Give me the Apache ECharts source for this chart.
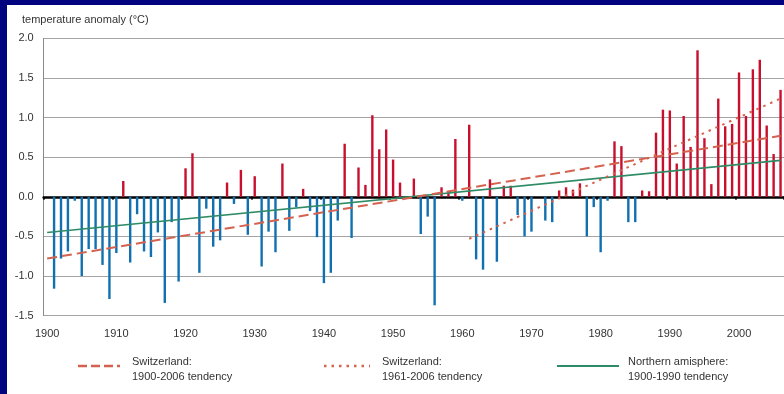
<!DOCTYPE html>
<html>
<head>
<meta charset="utf-8">
<title>Temperature anomaly Switzerland 1901-2006</title>
<script src="https://cdn.jsdelivr.net/npm/echarts@6/dist/echarts.min.js"></script>
<style>
  html, body { margin: 0; padding: 0; }
  body { width: 784px; height: 394px; background: #02037f; position: relative; overflow: hidden; }
  #panel { position: absolute; left: 7px; top: 5px; right: 0; bottom: 0; background: #ffffff; }
  #chart { position: absolute; left: 0; top: 0; width: 784px; height: 394px; }
</style>
</head>
<body>
<div id="panel"></div>
<div id="chart"></div>
<script>
// Yearly temperature anomaly (°C), 1900 has no measurement
const firstYear = 1900;
const lastYear = 2006;
const years = [];
for (let y = firstYear; y <= lastYear; y++) years.push(String(y));

const anomaly1900s = [null, -1.16, -0.78, -0.69, -0.05, -1.00, -0.66, -0.66, -0.86, -1.29, -0.71];
const anomaly1910s = [0.20, -0.83, -0.22, -0.69, -0.76, -0.45, -1.34, -0.32, -1.07, 0.36];
const anomaly1920s = [0.55, -0.96, -0.15, -0.63, -0.55, 0.18, -0.09, 0.34, -0.48, 0.26];
const anomaly1930s = [-0.88, -0.44, -0.70, 0.42, -0.43, -0.13, 0.10, -0.18, -0.51, -1.09];
const anomaly1940s = [-0.96, -0.30, 0.67, -0.52, 0.37, 0.15, 1.03, 0.60, 0.85, 0.47];
const anomaly1950s = [0.18, 0.00, 0.23, -0.47, -0.25, -1.37, 0.12, 0.06, 0.73, -0.05];
const anomaly1960s = [0.91, -0.79, -0.92, 0.22, -0.82, 0.14, 0.14, -0.23, -0.50, -0.44];
const anomaly1970s = [0.00, -0.30, -0.32, 0.08, 0.12, 0.09, 0.17, -0.50, -0.13, -0.70];
const anomaly1980s = [-0.05, 0.70, 0.64, -0.32, -0.32, 0.08, 0.07, 0.81, 1.10, 1.09];
const anomaly1990s = [0.42, 1.02, 0.63, 1.85, 0.74, 0.16, 1.24, 0.89, 0.92, 1.57];
const anomaly2000s = [1.02, 1.61, 1.73, 0.90, 0.54, 1.35];

const anomalies = [].concat(anomaly1900s, anomaly1910s, anomaly1920s, anomaly1930s,
  anomaly1940s, anomaly1950s, anomaly1960s, anomaly1970s, anomaly1980s,
  anomaly1990s, anomaly2000s);

// Linear tendencies: [start year, start value], [end year, end value]
const swissTrend1900 = [['1900', -0.78], ['2006', 0.77]];
const swissTrend1961 = [['1961', -0.53], ['2006', 1.24]];
const northernTrend = [['1900', -0.45], ['2006', 0.46]];

const legendNames = [
  'Switzerland:\n1900-2006 tendency',
  'Switzerland:\n1961-2006 tendency',
  'Northern amisphere:\n1900-1990 tendency'
];

const warmColor = '#c8102e';
const coldColor = '#1170b0';
const trendRed = '#d4624e';
const trendGreen = '#2e8b66';
const textColor = '#333333';
const baseFont = '"Liberation Sans", Arial, sans-serif';

const chart = echarts.init(document.getElementById('chart'), null, { renderer: 'canvas' });

const decadeOnly = (index) => index % 10 === 0;

chart.setOption({
  animation: false,
  backgroundColor: 'transparent',
  textStyle: { fontFamily: baseFont },
  title: {
    text: 'temperature anomaly (°C)',
    left: 17, top: 9,
    textStyle: { fontSize: 11, fontWeight: 'normal', color: textColor, fontFamily: baseFont }
  },
  grid: { left: 43.7, top: 38.4, width: 741.5, height: 277.2, containLabel: false },
  xAxis: [
    {
      // zero line with decade ticks
      type: 'category',
      data: years,
      position: 'bottom',
      boundaryGap: true,
      axisLine: { onZero: true, lineStyle: { color: '#000000', width: 2.6 } },
      axisTick: { show: true, interval: (i) => decadeOnly(i), length: 3, lineStyle: { color: '#000000', width: 1.5 } },
      axisLabel: { show: false },
      splitLine: { show: false }
    },
    {
      // decade labels along the bottom
      type: 'category',
      data: years,
      position: 'bottom',
      boundaryGap: true,
      axisLine: { show: false, onZero: false },
      axisTick: { show: false },
      axisLabel: {
        show: true,
        interval: (i) => decadeOnly(i),
        margin: 13,
        fontSize: 11,
        color: textColor,
        fontFamily: '"Liberation Sans Narrow", "Arial Narrow", ' + baseFont
      },
      splitLine: { show: false }
    }
  ],
  yAxis: {
    type: 'value',
    min: -1.5, max: 2.0, interval: 0.5,
    axisLine: { show: true, lineStyle: { color: '#8a8a8a', width: 1 } },
    axisTick: { show: false },
    axisLabel: {
      margin: 10, fontSize: 11, color: textColor, fontFamily: baseFont,
      formatter: (v) => v.toFixed(1)
    },
    splitLine: { show: true, lineStyle: { color: '#a3a3a3', width: 1 } }
  },
  series: [
    {
      name: 'anomaly',
      type: 'bar',
      xAxisIndex: 0,
      data: anomalies,
      barWidth: 2.4,
      itemStyle: { color: (p) => (p.value >= 0 ? warmColor : coldColor) },
      z: 2
    },
    {
      name: legendNames[0],
      type: 'line',
      xAxisIndex: 0,
      data: swissTrend1900,
      symbol: 'none',
      lineStyle: { color: trendRed, width: 2, type: [10, 5] },
      z: 4
    },
    {
      name: legendNames[1],
      type: 'line',
      xAxisIndex: 0,
      data: swissTrend1961,
      symbol: 'none',
      lineStyle: { color: trendRed, width: 2, type: [2.5, 5] },
      z: 4
    },
    {
      name: legendNames[2],
      type: 'line',
      xAxisIndex: 0,
      data: northernTrend,
      symbol: 'none',
      lineStyle: { color: trendGreen, width: 1.6 },
      z: 3
    }
  ],
  graphic: {
    elements: [
      { type: 'line', shape: { x1: 78, y1: 366, x2: 120, y2: 366 },
        style: { stroke: trendRed, lineWidth: 2.5, lineDash: [9, 4] } },
      { type: 'text', left: 132, top: 354,
        style: { text: legendNames[0], font: '11px ' + baseFont, fill: textColor, lineHeight: 15 } },
      { type: 'line', shape: { x1: 324, y1: 366, x2: 370, y2: 366 },
        style: { stroke: trendRed, lineWidth: 2.5, lineDash: [2.5, 5] } },
      { type: 'text', left: 382, top: 354,
        style: { text: legendNames[1], font: '11px ' + baseFont, fill: textColor, lineHeight: 15 } },
      { type: 'line', shape: { x1: 557, y1: 366, x2: 619, y2: 366 },
        style: { stroke: trendGreen, lineWidth: 2 } },
      { type: 'text', left: 628, top: 354,
        style: { text: legendNames[2], font: '11px ' + baseFont, fill: textColor, lineHeight: 15 } }
    ]
  }
});
</script>
</body>
</html>
